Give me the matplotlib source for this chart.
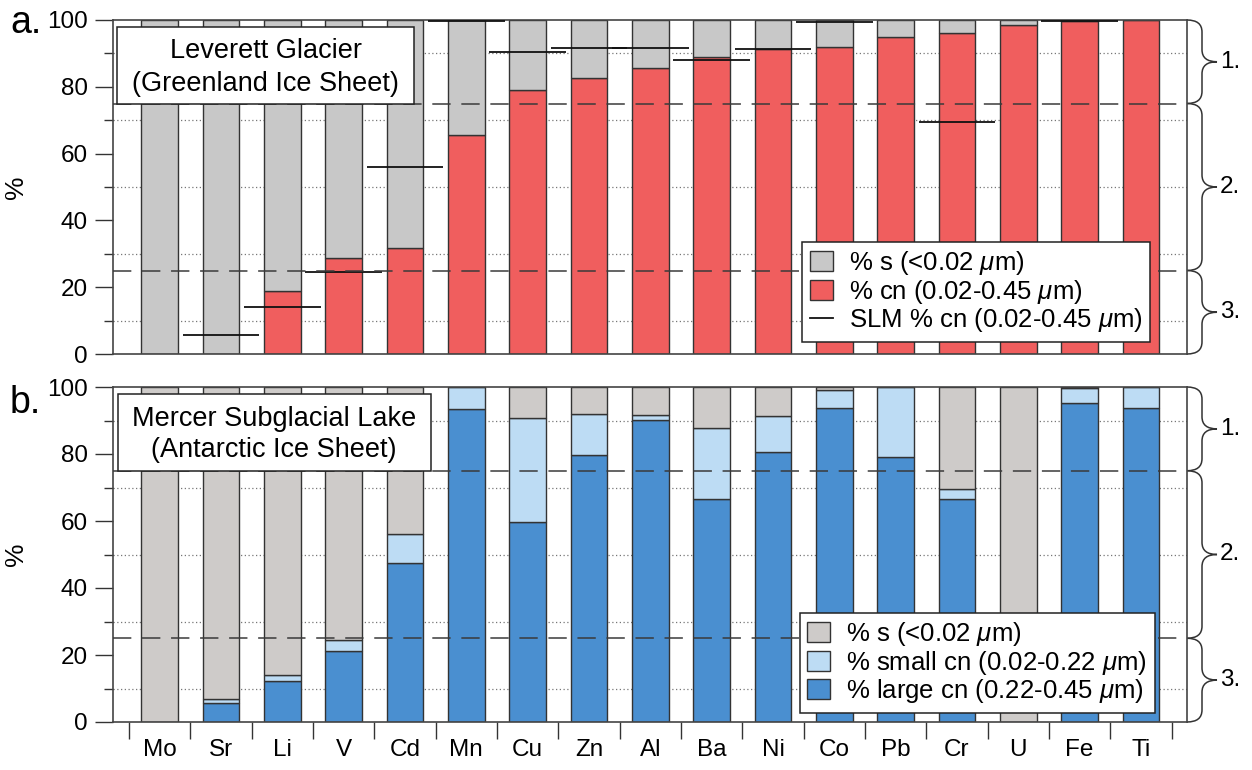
import numpy as np
import matplotlib
matplotlib.use("Agg")
import matplotlib.pyplot as plt
import matplotlib.transforms as mtransforms
from matplotlib.path import Path
from matplotlib.patches import PathPatch, Rectangle, Patch
from matplotlib.lines import Line2D

plt.rcParams['font.family'] = ['Liberation Sans', 'DejaVu Sans']
plt.rcParams['mathtext.fontset'] = 'custom'
plt.rcParams['mathtext.rm'] = 'Liberation Sans'
plt.rcParams['mathtext.it'] = 'Liberation Sans:italic'

elements = ["Mo", "Sr", "Li", "V", "Cd", "Mn", "Cu", "Zn", "Al",
            "Ba", "Ni", "Co", "Pb", "Cr", "U", "Fe", "Ti"]

# a. Leverett Glacier: % colloidal-nanoparticulate (cn), plus SLM comparison
lev_cn = [0, 0, 18.9, 28.7, 31.7, 65.7, 79.1, 82.7, 85.7,
          88.8, 91.2, 92.0, 95.0, 96.1, 98.5, 99.8, 100]
slm_cn = [np.nan, 5.8, 14.2, 24.6, 56.1, 99.7, 90.5, 91.7, 91.7,
          88.0, 91.3, 99.4, np.nan, 69.5, np.nan, 99.6, np.nan]

# b. Mercer Subglacial Lake: large cn and small cn
msl_large = [0, 5.7, 12.2, 21.1, 47.4, 93.4, 59.6, 79.6, 90.2,
             66.6, 80.7, 93.7, 79.2, 66.5, 0, 95.2, 93.8]
msl_small = [0, 1.2, 1.9, 3.5, 8.6, 6.6, 31.0, 12.2, 1.3,
             21.3, 10.7, 5.5, 20.8, 3.0, 0, 4.5, 6.2]

zones = [(75, 100, "1."), (25, 75, "2."), (0, 25, "3.")]

red = '#F05E5E'
gray_a = '#C8C8C8'
gray_b = '#CECBC9'
light_blue = '#BDDCF4'
blue = '#4A8FD0'
edge = '#333333'

W, H = 1252, 770
fig = plt.figure(figsize=(W / 100, H / 100), dpi=100)
ax_a = fig.add_axes([113 / W, 1 - 354 / H, 1074 / W, 334 / H])
ax_b = fig.add_axes([113 / W, 1 - 722 / H, 1074 / W, 335 / H])

x = np.arange(len(elements))
lev_cn = np.array(lev_cn)
slm_cn = np.array(slm_cn)
msl_large = np.array(msl_large)
msl_small = np.array(msl_small)


def brace(ax, y0, y1, label):
    tr = mtransforms.blended_transform_factory(ax.transAxes, ax.transData)
    xa, xb, xc = 1.0, 1.0 + 15 / 1074, 1.0 + 30 / 1074
    r = 3.6
    ym = (y0 + y1) / 2
    verts = [(xa, y1), (xb, y1), (xb, y1 - r),
             (xb, ym + r), (xb, ym), (xc, ym),
             (xb, ym), (xb, ym - r),
             (xb, y0 + r), (xb, y0), (xa, y0)]
    codes = [Path.MOVETO, Path.CURVE3, Path.CURVE3, Path.LINETO,
             Path.CURVE3, Path.CURVE3, Path.CURVE3, Path.CURVE3,
             Path.LINETO, Path.CURVE3, Path.CURVE3]
    ax.add_patch(PathPatch(Path(verts, codes), fc='none', ec='#333',
                           lw=1.1, transform=tr, clip_on=False))
    ax.text(1.0 + 33 / 1074, ym, label, transform=tr, ha='left',
            va='center', fontsize=17.5)


def style(ax):
    ax.set_xlim(-0.76, 16.75)
    ax.set_ylim(0, 100)
    ax.set_yticks(range(0, 101, 20))
    ax.set_yticks(range(10, 100, 20), minor=True)
    ax.tick_params(axis='y', which='major', length=13, width=1, pad=5,
                   labelsize=17.5, color='#333')
    ax.tick_params(axis='y', which='minor', length=6.5, width=1, color='#333')
    for y in (10, 30, 50, 70, 90):
        ax.axhline(y, color='#777', lw=0.9, ls=(0, (1, 2)), zorder=0)
    for y in (25, 75):
        ax.axhline(y, color='#3a3a3a', lw=1.1, ls=(0, (12, 7)), zorder=5)
    for s in ax.spines.values():
        s.set_color('#444')
        s.set_linewidth(1.2)
    ax.set_ylabel('%', fontsize=19)
    ax.yaxis.set_label_coords(-0.079, 0.5)
    for y0, y1, lab in zones:
        brace(ax, y0, y1, lab)


def title_box(ax, x0, x1, xc, lines, ybase):
    tr = mtransforms.blended_transform_factory(ax.transAxes, ax.transData)
    ax.add_patch(Rectangle((x0, 75), x1 - x0, 22.9, transform=tr,
                           fc='white', ec='#222', lw=1.1, zorder=6))
    for txt, yb in zip(lines, ybase):
        ax.text(xc, yb, txt, transform=tr, ha='center', va='baseline',
                fontsize=19.5, zorder=7)


def add_legend(ax, handles, anchor):
    leg = ax.legend(handles=handles, loc='lower right', bbox_to_anchor=anchor,
                    fontsize=18.5, fancybox=False, edgecolor='#222', framealpha=1,
                    handlelength=0.9, handleheight=0.82, labelspacing=0.02,
                    handletextpad=0.62, borderpad=0.3, borderaxespad=0)
    leg.get_frame().set_linewidth(1.1)
    leg.set_zorder(8)


# ---- panel a ----
style(ax_a)
ax_a.bar(x, lev_cn, width=0.6, color=red, edgecolor=edge, lw=1, zorder=2)
ax_a.bar(x, 100 - lev_cn, bottom=lev_cn, width=0.6, color=gray_a,
         edgecolor=edge, lw=1, zorder=2)
ax_a.hlines(slm_cn, x - 0.625, x + 0.625, color='#111', lw=1.3, zorder=4)
ax_a.set_xticks([])
title_box(ax_a, 0.0037, 0.2803, 0.142,
          ["Leverett Glacier", "(Greenland Ice Sheet)"], [88.5, 78.7])
h_a = [Patch(fc=gray_a, ec=edge, label='% s (<0.02 $\\mu$m)'),
       Patch(fc=red, ec=edge, label='% cn (0.02-0.45 $\\mu$m)'),
       Line2D([], [], color='#111', lw=1.3, label='SLM % cn (0.02-0.45 $\\mu$m)')]
add_legend(ax_a, h_a, (0.9655, 0.036))

# ---- panel b ----
style(ax_b)
small_top = msl_large + msl_small
ax_b.bar(x, msl_large, width=0.6, color=blue, edgecolor=edge, lw=1, zorder=2)
ax_b.bar(x, msl_small, bottom=msl_large, width=0.6, color=light_blue,
         edgecolor=edge, lw=1, zorder=2)
ax_b.bar(x, 100 - small_top, bottom=small_top, width=0.6, color=gray_b,
         edgecolor=edge, lw=1, zorder=2)
ax_b.set_xticks(x)
ax_b.set_xticklabels(elements)
ax_b.set_xticks(np.arange(-0.5, 17, 1), minor=True)
ax_b.tick_params(axis='x', which='major', length=0, pad=12, labelsize=17.5)
ax_b.tick_params(axis='x', which='minor', length=12, width=1, color='#333')
title_box(ax_b, 0.0042, 0.296, 0.150,
          ["Mercer Subglacial Lake", "(Antarctic Ice Sheet)"], [88.3, 79.0])
h_b = [Patch(fc=gray_b, ec=edge, label='% s (<0.02 $\\mu$m)'),
       Patch(fc=light_blue, ec=edge, label='% small cn (0.02-0.22 $\\mu$m)'),
       Patch(fc=blue, ec=edge, label='% large cn (0.22-0.45 $\\mu$m)')]
add_legend(ax_b, h_b, (0.970, 0.027))

fig.text(10 / W, 1 - 33 / H, 'a.', fontsize=27, va='baseline')
fig.text(10 / W, 1 - 413 / H, 'b.', fontsize=27, va='baseline')

fig.savefig('out.png', dpi=100)
